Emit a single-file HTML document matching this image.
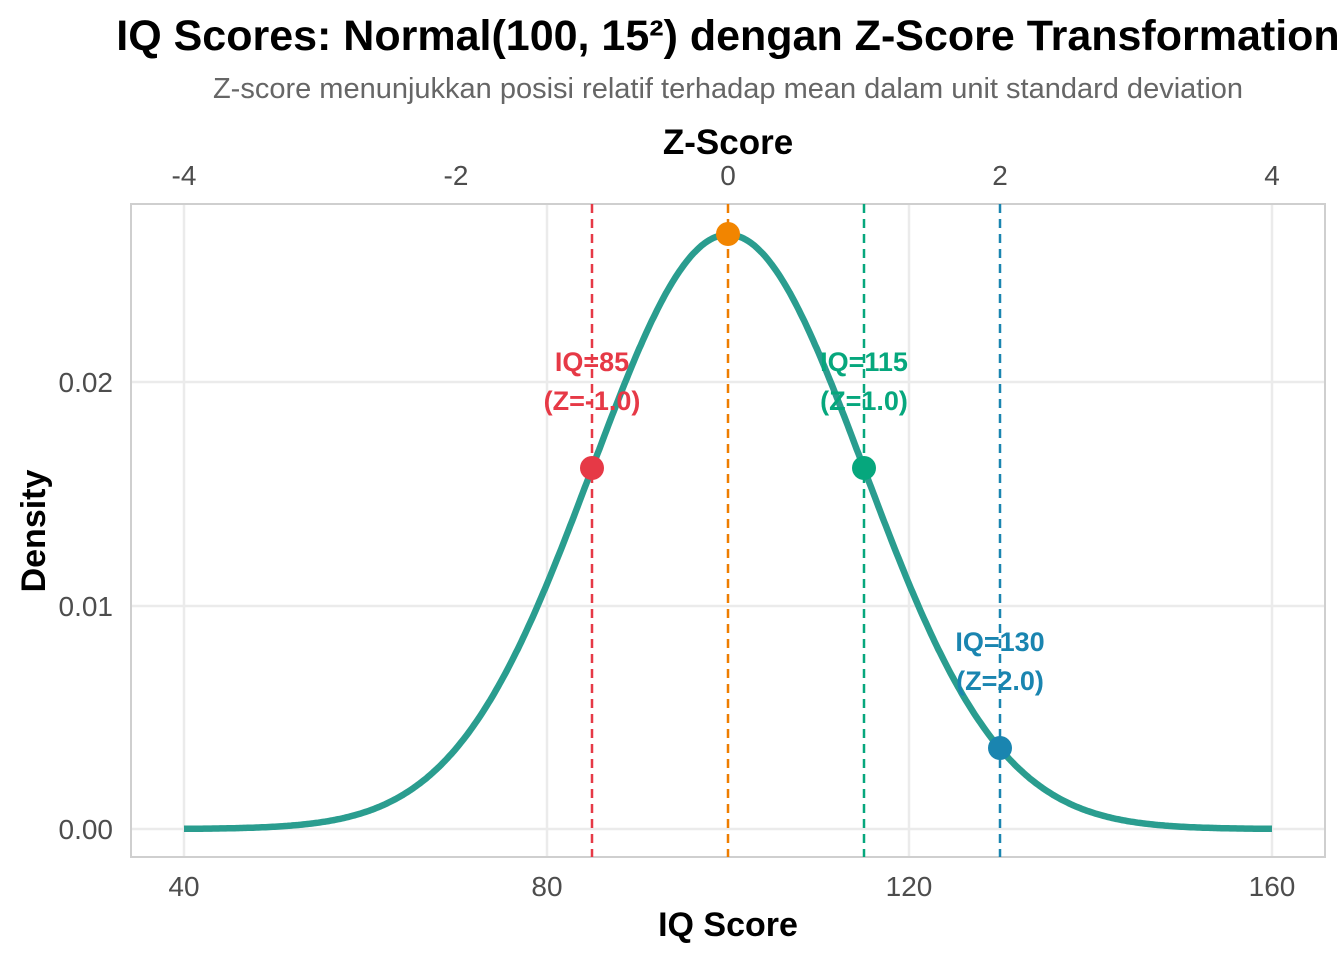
<!DOCTYPE html>
<html><head><meta charset="utf-8"><style>
body{margin:0;background:#fff;}
svg text{font-family:"Liberation Sans",Arial,sans-serif;}
</style></head><body>
<svg id="s" width="1344" height="960" viewBox="0 0 1344 960" xmlns="http://www.w3.org/2000/svg">
<rect width="1344" height="960" fill="#fff"/>
<text x="728" y="50" font-size="43" font-weight="bold" text-anchor="middle" fill="#000">IQ Scores: Normal(100, 15²) dengan Z-Score Transformation</text>
<text x="728" y="98" font-size="29" text-anchor="middle" fill="#666">Z-score menunjukkan posisi relatif terhadap mean dalam unit standard deviation</text>
<text x="728" y="154" font-size="35" font-weight="bold" text-anchor="middle" fill="#000">Z-Score</text>
<g font-size="28" fill="#4d4d4d" text-anchor="middle">
<text x="184" y="185">-4</text><text x="456" y="185">-2</text><text x="728" y="185">0</text><text x="1000" y="185">2</text><text x="1272" y="185">4</text>
<text x="184" y="896">40</text><text x="547" y="896">80</text><text x="909" y="896">120</text><text x="1272" y="896">160</text>
</g>
<g font-size="28" fill="#4d4d4d" text-anchor="end">
<text x="113" y="839">0.00</text><text x="113" y="616">0.01</text><text x="113" y="392">0.02</text>
</g>
<text x="728" y="936" font-size="34" font-weight="bold" text-anchor="middle" fill="#000">IQ Score</text>
<text transform="translate(45,531) rotate(-90)" font-size="34" font-weight="bold" text-anchor="middle" fill="#000">Density</text>
<g stroke="#ebebeb" stroke-width="2.5">
<line x1="131" x2="1325" y1="829" y2="829"/><line x1="131" x2="1325" y1="606" y2="606"/><line x1="131" x2="1325" y1="382" y2="382"/>
<line x1="184" x2="184" y1="204" y2="857"/><line x1="547" x2="547" y1="204" y2="857"/><line x1="909" x2="909" y1="204" y2="857"/><line x1="1272" x2="1272" y1="204" y2="857"/>
</g>
<rect x="131" y="204" width="1194" height="653" fill="none" stroke="#cfcfcf" stroke-width="2"/>
<path id="curve" fill="none" stroke="#2a9d8f" stroke-width="6.5" stroke-linejoin="round"/>
<g stroke-width="2.5" stroke-dasharray="9,6">
<line x1="592" x2="592" y1="204" y2="857" stroke="#e63946"/>
<line x1="728" x2="728" y1="204" y2="857" stroke="#ee7d00"/>
<line x1="864" x2="864" y1="204" y2="857" stroke="#06a77d"/>
<line x1="1000" x2="1000" y1="204" y2="857" stroke="#1a85b0"/>
</g>
<circle cx="592" cy="468" r="12" fill="#e63946"/>
<circle cx="728" cy="234" r="12" fill="#f28500"/>
<circle cx="864" cy="468" r="12" fill="#06a77d"/>
<circle cx="1000" cy="748" r="12" fill="#1a85b0"/>
<g font-size="27" font-weight="bold" text-anchor="middle">
<text x="592" y="371" fill="#e63946">IQ=85</text><text x="592" y="410" fill="#e63946">(Z=-1.0)</text>
<text x="864" y="371" fill="#06a77d">IQ=115</text><text x="864" y="410" fill="#06a77d">(Z=1.0)</text>
<text x="1000" y="651" fill="#1a85b0">IQ=130</text><text x="1000" y="690" fill="#1a85b0">(Z=2.0)</text>
</g>
</svg>
<script>
var d="";for(var i=0;i<=600;i++){var x=40+120*i/600;var z=(x-100)/15;var y=Math.exp(-z*z/2)/(15*Math.sqrt(2*Math.PI));
var px=184+(x-40)*1088/120,py=829-y*22350;d+=(i?"L":"M")+px.toFixed(1)+","+py.toFixed(1);}
document.getElementById("curve").setAttribute("d",d);
</script>
</body></html>
